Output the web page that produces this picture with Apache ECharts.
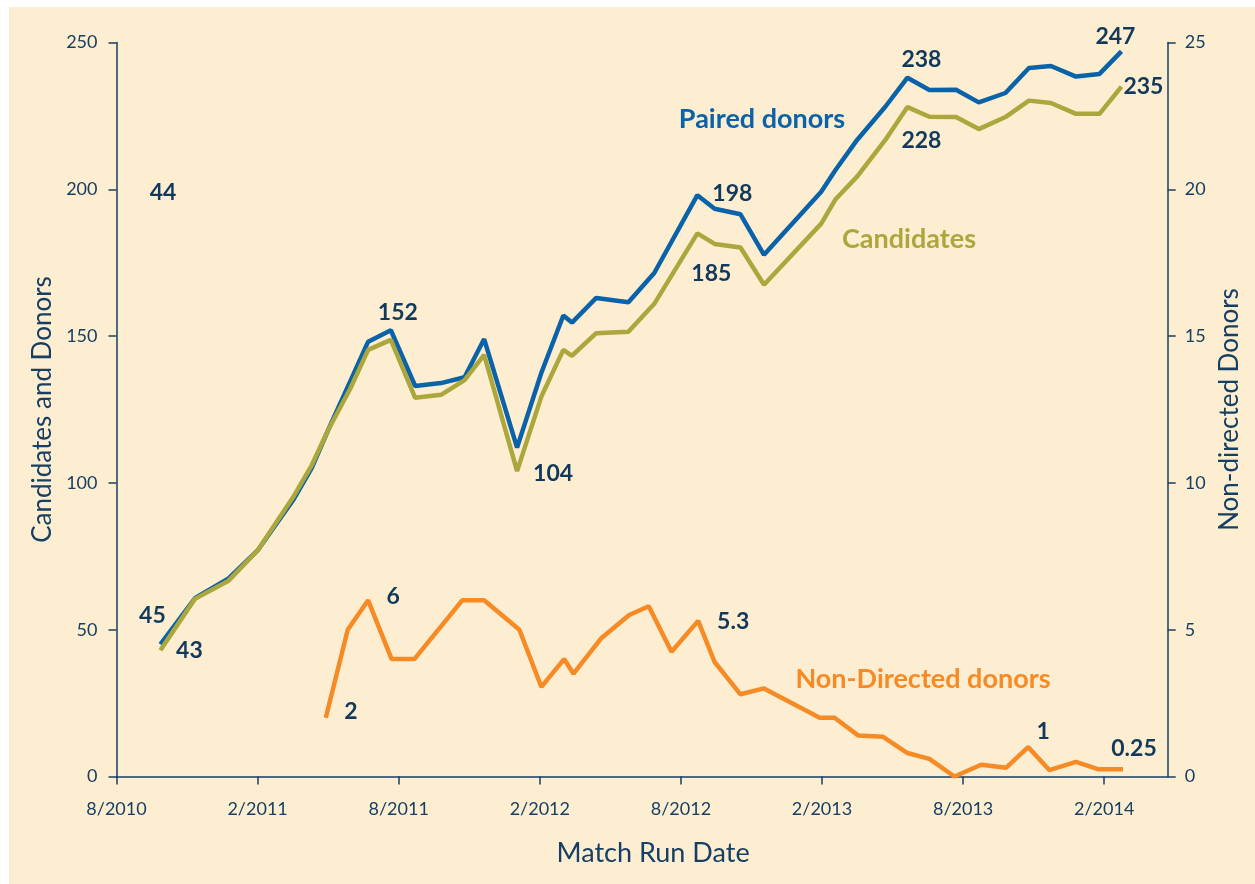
<!DOCTYPE html>
<html>
<head>
<meta charset="utf-8">
<title>Match Run Date</title>
<script src="https://cdn.jsdelivr.net/npm/echarts@6/dist/echarts.min.js"></script>
<style>
    html,body{margin:0;padding:0;background:#fff;}
    #main{position:absolute;left:9px;top:7px;width:1246px;height:877px;background:#fdeed2;}
</style>
</head>
<body>
<div id="main"></div>
<script>
/*------------数据-----------*/
// paired donors / candidates, match run dates
var matchDates = ['2010-09-27','2010-11-11','2010-12-24','2011-02-01','2011-03-16','2011-04-10','2011-05-01','2011-05-29','2011-06-22','2011-07-21',
    '2011-08-22','2011-09-25','2011-10-25','2011-11-20','2012-01-02','2012-02-03','2012-03-01','2012-03-12','2012-04-13','2012-05-24',
    '2012-06-27','2012-08-22','2012-09-14','2012-10-17','2012-11-17','2013-01-30','2013-02-18','2013-03-16','2013-04-22','2013-05-20',
    '2013-06-18','2013-07-22','2013-08-21','2013-09-25','2013-10-25','2013-11-23','2013-12-25','2014-01-25','2014-02-23'];
var pairedDonors = [45,60.7,67.5,77,94,105,118,134.5,148.1,152,
    133,134,136,149,112,137.5,157,154.6,163,161.5,
    171.5,198,193.4,191.5,177.7,199.2,206.5,216.9,228.2,238,
    233.8,233.9,229.6,232.8,241.3,242,238.4,239.3,247];
var candidates = [43,60.5,66.7,77,95,106,118,132,145.3,148.7,
    129,130,135,143.6,104,129.4,145.3,143.3,151,151.5,
    161,185,181.4,180.2,167.5,188.3,196.5,204.4,216.9,228,
    224.7,224.6,220.5,224.6,230.2,229.4,225.7,225.7,235];

// non-directed donors (right axis)
var ndDates = ['2011-04-28','2011-05-26','2011-06-22','2011-07-22','2011-08-21','2011-10-22','2011-11-20','2012-01-05','2012-02-03','2012-03-02',
    '2012-03-14','2012-04-19','2012-05-25','2012-06-20','2012-07-19','2012-08-23','2012-09-14','2012-10-17','2012-11-17','2013-01-28',
    '2013-02-17','2013-03-17','2013-04-19','2013-05-20','2013-06-18','2013-07-20','2013-08-24','2013-09-26','2013-10-24','2013-11-21',
    '2013-12-25','2014-01-23','2014-02-25'];
var nonDirected = [2,5,6,4,4,6,6,5,3.05,4,
    3.5,4.7,5.5,5.8,4.25,5.3,3.9,2.8,3,2,
    2,1.4,1.35,0.8,0.6,0,0.4,0.3,1,0.22,
    0.5,0.25,0.25];

// 标注: [index, dx, dy]
var pairedCallouts = [[0,-8,-29],[9,7,-18],[21,35,-2],[29,14,-18],[38,-6,-15]];
var candCallouts = [[0,29,0],[14,36,2],[21,14,40],[29,14,33],[38,22,0]];
var ndCallouts = [[0,25,-6],[2,25,-4],[15,35,1],[28,15,-16],[32,11,-21]];

var navy = '#163f63';
var fontName = 'Lato, "Open Sans", sans-serif';

//日期转为 距2010年8月 的月数
function toMonths(s){
    var p = s.split('-');
    return (+p[0]-2010)*12 + (+p[1]-8) + (+p[2]-1)/30;
}
function pairUp(dates, vals){
    var out = [];
    for(var i=0;i<dates.length;i++){out.push([toMonths(dates[i]), vals[i]])}
    return out;
}
var pairedData = pairUp(matchDates, pairedDonors);
var candData = pairUp(matchDates, candidates);
var ndData = pairUp(ndDates, nonDirected);

var myChart = echarts.init(document.getElementById('main'));
var option = {
    animation:false,
    backgroundColor:'#fdeed2',
    textStyle:{fontFamily:fontName},
    grid:{left:107.5,right:87.3,top:35.5,bottom:107.5},
    xAxis:{
        type:'value',
        min:0,
        max:44.7,
        interval:6,
        name:'Match Run Date',
        nameLocation:'middle',
        nameGap:63,
        nameTextStyle:{color:navy,fontSize:27,fontFamily:fontName,padding:[0,0,0,22]},
        axisLine:{lineStyle:{color:navy,width:1.5}},
        axisTick:{length:8,lineStyle:{color:navy,width:1.5}},
        splitLine:{show:false},
        axisLabel:{
            color:navy,fontSize:18,margin:24,showMaxLabel:false,
            formatter:function(v){
                var m = ((v+7)%12)+1;
                var y = 2010 + Math.floor((v+7)/12);
                return m+'/'+y;
            }
        }
    },
    yAxis:[{
        type:'value',
        min:0,max:250,interval:50,
        name:'Candidates and Donors',
        nameLocation:'middle',
        nameGap:60,
        nameRotate:90,
        nameTextStyle:{color:navy,fontSize:26,fontFamily:fontName},
        axisLine:{show:true,lineStyle:{color:navy,width:1.5}},
        axisTick:{show:true,length:8,lineStyle:{color:navy,width:1.5}},
        splitLine:{show:false},
        axisLabel:{color:navy,fontSize:18,margin:19}
    },{
        type:'value',
        min:0,max:25,interval:5,
        position:'right',
        name:'Non-directed Donors',
        nameLocation:'middle',
        nameGap:49,
        nameRotate:90,
        nameTextStyle:{color:navy,fontSize:26,fontFamily:fontName},
        axisLine:{show:true,lineStyle:{color:navy,width:1.5}},
        axisTick:{show:true,length:8,lineStyle:{color:navy,width:1.5}},
        splitLine:{show:false},
        axisLabel:{color:navy,fontSize:18,margin:17}
    }],
    series:[{
        name:'Paired donors',
        type:'line',
        symbol:'none',
        data:pairedData,
        lineStyle:{color:'#0a62a9',width:4.5},
        itemStyle:{color:'#0a62a9'}
    },{
        name:'Candidates',
        type:'line',
        symbol:'none',
        data:candData,
        lineStyle:{color:'#aba73d',width:4.5},
        itemStyle:{color:'#aba73d'}
    },{
        name:'Non-Directed donors',
        type:'line',
        symbol:'none',
        yAxisIndex:1,
        data:ndData,
        lineStyle:{color:'#f68a25',width:4.5},
        itemStyle:{color:'#f68a25'}
    }]
};
myChart.setOption(option);

/*------------数值标注 (用坐标轴换算位置)-----------*/
var graphics = [];
function addCallouts(list, data, axisIdx){
    list.forEach(function(c){
        var pt = data[c[0]];
        var px = myChart.convertToPixel({xAxisIndex:0,yAxisIndex:axisIdx}, pt);
        graphics.push({
            type:'text',
            x:px[0]+c[1],
            y:px[1]+c[2],
            style:{text:String(pt[1]),fill:'#10395c',font:'bold 23px '+fontName,align:'center',verticalAlign:'middle'}
        });
    });
}
addCallouts(pairedCallouts, pairedData, 0);
addCallouts(candCallouts, candData, 0);
addCallouts(ndCallouts, ndData, 1);

// 系列名称
function addText(t, x, y, color){
    graphics.push({
        type:'text',x:x,y:y,
        style:{text:t,fill:color,font:'bold 27px '+fontName,align:'center',verticalAlign:'middle'}
    });
}
addText('Paired donors', 753, 112, '#0a62a9');
addText('Candidates', 900, 232, '#aba73d');
addText('Non-Directed donors', 914, 672, '#f68a25');
graphics.push({
    type:'text',x:154,y:186,
    style:{text:'44',fill:'#10395c',font:'bold 23px '+fontName,align:'center',verticalAlign:'middle'}
});
myChart.setOption({graphic:graphics});
</script>
</body>
</html>
